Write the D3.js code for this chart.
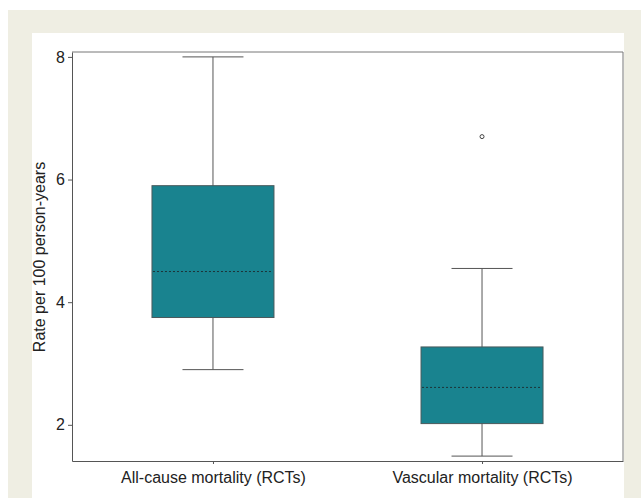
<!DOCTYPE html>
<html>
<head>
<meta charset="utf-8">
<script src="https://cdn.jsdelivr.net/npm/d3@7"></script>
<style>
  body { margin: 0; background: #fff; }
  svg { display: block; font-family: "Liberation Sans", Arial, sans-serif; }
</style>
</head>
<body>
<svg id="chart" width="641" height="498"></svg>
<script>
// data
const categories = ['All-cause mortality (RCTs)', 'Vascular mortality (RCTs)']
const whiskerLow = [2.90, 1.49]
const q1 = [3.75, 2.02]
const medians = [4.50, 2.61]
const q3 = [5.90, 3.27]
const whiskerHigh = [8.00, 4.55]
const outliers = [[], [6.70]]
const yTicks = [2, 4, 6, 8]
const yLabel = 'Rate per 100 person-years'

const svg = d3.select('#chart')
const boxFill = '#19838f'
const lineColor = '#555'
const textColor = '#222'

const plotLeft = 72, plotRight = 623, plotTop = 52, plotBottom = 461

// panel backgrounds
svg.append('rect').attr('x', 8).attr('y', 10).attr('width', 633).attr('height', 488).attr('fill', '#efeee3')
svg.append('rect').attr('x', 32).attr('y', 33).attr('width', 592).attr('height', 465).attr('fill', '#fff')

const xScale = d3.scalePoint()
  .domain(categories)
  .range([plotLeft, plotRight])
  .padding(0.524)

const yScale = d3.scaleLinear()
  .domain([1.41, 8.08])
  .range([plotBottom, plotTop])

const boxW = 122
const capW = 61

// frame top / right
svg.append('path')
  .attr('d', `M${plotLeft},${plotTop}H${plotRight}V${plotBottom}`)
  .attr('fill', 'none')
  .attr('stroke', '#777')
  .attr('stroke-width', 1)

// y axis
const yAxis = svg.append('g')
  .attr('transform', `translate(${plotLeft},0)`)
  .call(d3.axisLeft(yScale).tickValues(yTicks).tickFormat(d3.format('d'))
    .tickSize(4).tickSizeOuter(0).tickPadding(3))
yAxis.select('.domain').attr('stroke', lineColor)
yAxis.selectAll('.tick line').attr('stroke', lineColor)
yAxis.selectAll('.tick text')
  .attr('fill', textColor)
  .style('font-size', '16px')

// x axis
const xAxis = svg.append('g')
  .attr('transform', `translate(0,${plotBottom})`)
  .call(d3.axisBottom(xScale).tickSize(3).tickSizeOuter(0).tickPadding(8))
xAxis.select('.domain').attr('stroke', lineColor)
xAxis.selectAll('.tick line').attr('stroke', lineColor)
xAxis.selectAll('.tick text')
  .attr('fill', textColor)
  .style('font-size', '16px')

// y label
svg.append('text')
  .attr('transform', 'translate(45,257) rotate(-90)')
  .attr('text-anchor', 'middle')
  .attr('fill', textColor)
  .style('font-size', '16px')
  .text(yLabel)

const boxes = svg.selectAll('g.box')
  .data(categories)
  .enter()
  .append('g')
    .attr('class', 'box')
    .attr('transform', d => `translate(${xScale(d)},0)`)

// whisker stems
boxes.append('line')
  .attr('x1', 0).attr('x2', 0)
  .attr('y1', (d, i) => yScale(whiskerHigh[i]))
  .attr('y2', (d, i) => yScale(whiskerLow[i]))
  .attr('stroke', lineColor)

// caps
boxes.selectAll('line.cap')
  .data((d, i) => [whiskerLow[i], whiskerHigh[i]])
  .enter()
  .append('line')
    .attr('class', 'cap')
    .attr('x1', -capW / 2).attr('x2', capW / 2)
    .attr('y1', v => yScale(v)).attr('y2', v => yScale(v))
    .attr('stroke', lineColor)

// box
boxes.append('rect')
  .attr('x', -boxW / 2)
  .attr('width', boxW)
  .attr('y', (d, i) => yScale(q3[i]))
  .attr('height', (d, i) => yScale(q1[i]) - yScale(q3[i]))
  .attr('fill', boxFill)
  .attr('stroke', '#4a5a5c')
  .attr('stroke-width', 1)

// median, dotted
boxes.append('line')
  .attr('x1', -boxW / 2 + 1).attr('x2', boxW / 2 - 1)
  .attr('y1', (d, i) => yScale(medians[i]))
  .attr('y2', (d, i) => yScale(medians[i]))
  .attr('stroke', '#1d3438')
  .attr('stroke-width', 1)
  .attr('stroke-dasharray', '2,2')

// outliers
boxes.selectAll('circle')
  .data((d, i) => outliers[i])
  .enter()
  .append('circle')
    .attr('cx', 0)
    .attr('cy', v => yScale(v))
    .attr('r', 2)
    .attr('fill', 'none')
    .attr('stroke', '#444')
</script>
</body>
</html>
